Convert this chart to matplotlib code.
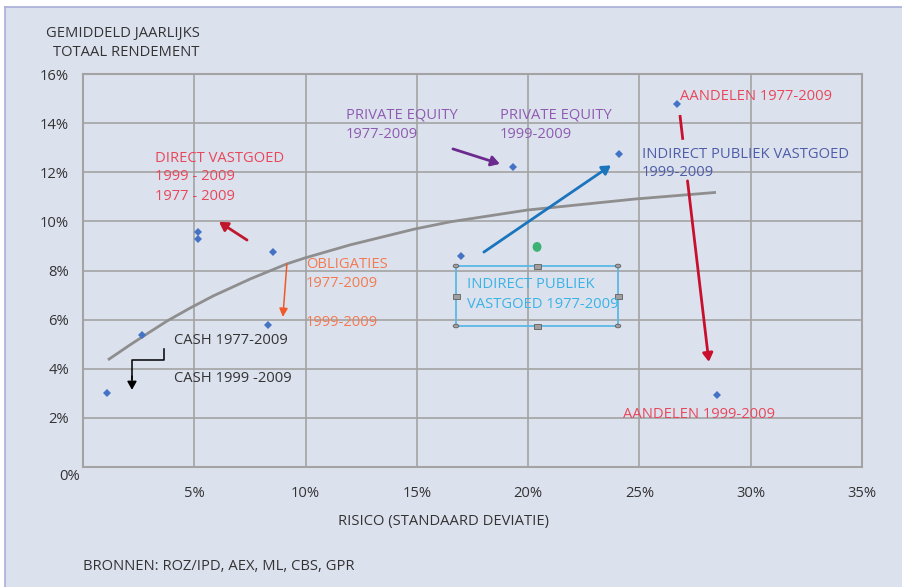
import matplotlib
matplotlib.use("Agg")
import matplotlib.pyplot as plt
from matplotlib.patches import Rectangle, Circle
import matplotlib.lines as mlines

plt.rcParams['font.family'] = ['Open Sans', 'DejaVu Sans']

# Risk (std dev, %) and average annual total return (%) per asset class / period
categories = [
    "CASH 1999-2009", "CASH 1977-2009",
    "DIRECT VASTGOED 1999-2009", "DIRECT VASTGOED 1977-2009",
    "OBLIGATIES 1977-2009", "OBLIGATIES 1999-2009",
    "INDIRECT PUBLIEK VASTGOED 1977-2009", "PRIVATE EQUITY",
    "INDIRECT PUBLIEK VASTGOED 1999-2009",
    "AANDELEN 1977-2009", "AANDELEN 1999-2009",
]
risk = [1.1, 2.65, 5.17, 5.17, 8.54, 8.31, 17.0, 19.3, 24.1, 26.7, 28.5]
ret = [3.0, 5.37, 9.57, 9.28, 8.75, 5.78, 8.6, 12.2, 12.74, 14.78, 2.93]

# Risk/return trend curve
curve_x = [1.12, 2.11, 3.01, 3.77, 4.81, 5.84, 7.50, 9.16, 9.97, 11.99, 14.91,
           16.49, 19.95, 24.80, 28.44]
curve_y = [4.36, 4.97, 5.50, 5.94, 6.47, 6.96, 7.65, 8.27, 8.51, 9.04, 9.69,
           9.98, 10.46, 10.91, 11.18]

x_ticks = [5, 10, 15, 20, 25, 30, 35]
y_ticks = [2, 4, 6, 8, 10, 12, 14, 16]

W, H = 902, 587
BG = "#DCE1EE"
GRID = "#A3A3A3"
FS = 10.6

fig = plt.figure(figsize=(W / 100, H / 100), dpi=100, facecolor="white")


def fp(x, y):
    """pixel position -> figure fraction"""
    return x / W, 1 - y / H


# panel background with a thin frame on the left and top
fig.patches.append(Rectangle(fp(5, H), (W - 5) / W, (H - 7) / H, transform=fig.transFigure,
                             facecolor=BG, edgecolor="none", zorder=-10))
fig.add_artist(mlines.Line2D([5 / W, 5 / W], [0, 1 - 7 / H], transform=fig.transFigure,
                             color="#A9AEDA", lw=1.2))
fig.add_artist(mlines.Line2D([5 / W, 1], [1 - 7 / H, 1 - 7 / H], transform=fig.transFigure,
                             color="#A9AEDA", lw=1.2))

ax = fig.add_axes([83 / W, 1 - 467 / H, (862 - 83) / W, (467 - 74) / H])
ax.set_facecolor(BG)
ax.set_xlim(0, 35)
ax.set_ylim(0, 16)
for v in x_ticks[:-1]:
    ax.axvline(v, color=GRID, lw=1.2, zorder=1)
for v in y_ticks[:-1]:
    ax.axhline(v, color=GRID, lw=1.2, zorder=1)
for side, s in ax.spines.items():
    s.set_color(GRID)
    s.set_linewidth(1.5)

ax.set_xticks(x_ticks)
ax.set_xticklabels([f"{v}%" for v in x_ticks])
ax.set_yticks(y_ticks)
ax.set_yticklabels([f"{v}%" for v in y_ticks])
ax.tick_params(length=0, labelsize=FS, labelcolor="#333333")
ax.tick_params(axis="x", pad=14)
ax.tick_params(axis="y", pad=10)

# trend curve and data points
ax.plot(curve_x, curve_y, color="#8E8E8E", lw=2.0, solid_capstyle="butt",
        solid_joinstyle="round", zorder=3)
ax.plot(risk, ret, linestyle="none", marker="D", markersize=4.2,
        color="#4472C4", markeredgewidth=0, zorder=5)

TXT = dict(fontsize=FS, va="center", ha="left")


def ptext(x, y, s, color, **kw):
    d = dict(TXT)
    d.update(kw)
    fig.text(*fp(x, y), s, color=color, **d)


def arrow(p0, p1, color, lw, head=0.5, width=0.3):
    ax.annotate("", xy=p1, xytext=p0,
                arrowprops=dict(arrowstyle=f"-|>,head_length={head},head_width={width}",
                                color=color, lw=lw, shrinkA=0, shrinkB=0),
                zorder=4)


# axis titles and source
ptext(200, 34, "GEMIDDELD JAARLIJKS", "#333333", ha="right")
ptext(199, 53, "TOTAAL RENDEMENT", "#333333", ha="right")
ptext(70, 477, "0%", "#333333", ha="center")
ptext(443, 521, "RISICO (STANDAARD DEVIATIE)", "#333333", ha="center")
ptext(83, 567, "BRONNEN: ROZ/IPD, AEX, ML, CBS, GPR", "#333333")

# labels
RED_T = "#E8475A"
PURP_T = "#8E5BB0"
ORNG_T = "#F37A4E"
SLATE = "#4E5DA8"
CYAN = "#3AB3E6"

ptext(155, 158, "DIRECT VASTGOED", RED_T)
ptext(155, 177, "1999 - 2009", RED_T)
ptext(155, 197, "1977 - 2009", RED_T)
ptext(346, 115, "PRIVATE EQUITY", PURP_T)
ptext(346, 134, "1977-2009", PURP_T)
ptext(500, 115, "PRIVATE EQUITY", PURP_T)
ptext(500, 134, "1999-2009", PURP_T)
ptext(680, 96, "AANDELEN 1977-2009", RED_T)
ptext(642, 154, "INDIRECT PUBLIEK VASTGOED", SLATE)
ptext(642, 173, "1999-2009", SLATE)
ptext(306, 265, "OBLIGATIES", ORNG_T)
ptext(306, 284, "1977-2009", ORNG_T)
ptext(306, 323, "1999-2009", ORNG_T)
ptext(174, 340, "CASH 1977-2009", "#333333")
ptext(174, 379, "CASH 1999 -2009", "#333333")
ptext(623, 414, "AANDELEN 1999-2009", RED_T)
ptext(467, 285, "INDIRECT PUBLIEK", CYAN)
ptext(467, 304, "VASTGOED 1977-2009", CYAN)

# arrows
arrow((7.37, 9.24), (6.11, 9.98), "#C0172C", 2.0)
arrow((9.16, 8.27), (8.98, 6.11), "#F05A28", 1.1, head=0.5, width=0.25)
arrow((16.62, 12.95), (18.73, 12.34), "#6B2A8E", 2.0)
arrow((18.01, 8.75), (23.72, 12.28), "#1B75BC", 2.0)
ax.plot([26.82, 26.95], [14.33, 13.32], color="#C8102E", lw=2.0, zorder=4, solid_capstyle="butt")
arrow((27.16, 11.65), (28.12, 4.28), "#C8102E", 2.0)

# cash elbow arrow
ax.plot([3.64, 3.64, 2.20, 2.20], [4.80, 4.36, 4.36, 3.6], color="black", lw=1.1, zorder=4)
arrow((2.20, 3.7), (2.20, 3.14), "black", 1.1, head=0.5, width=0.28)

# selected text frame with handles
fx0, fy0 = fp(456, 326)
fx1, fy1 = fp(618, 266)
fig.add_artist(Rectangle((fx0, fy0), fx1 - fx0, fy1 - fy0, transform=fig.transFigure,
                         facecolor="none", edgecolor="#5BB8E6", lw=1.3))
for (cx, cy) in [(456, 266), (618, 266), (456, 326), (618, 326)]:
    fig.add_artist(Circle(fp(cx, cy), 2.8 / W, transform=fig.transFigure,
                          facecolor="#A0A0A0", edgecolor="#606060", lw=0.6))
for (cx, cy) in [(537, 266), (537, 326), (456, 296), (618, 296)]:
    hx, hy = fp(cx - 3.5, cy + 2.5)
    fig.add_artist(Rectangle((hx, hy), 7 / W, 5 / H, transform=fig.transFigure,
                             facecolor="#A0A0A0", edgecolor="#606060", lw=0.6))
ax.add_patch(Circle((20.4, 8.96), 0.2, facecolor="#3BB273", edgecolor="none", zorder=6))

fig.savefig("out.png", dpi=100, facecolor="white")
